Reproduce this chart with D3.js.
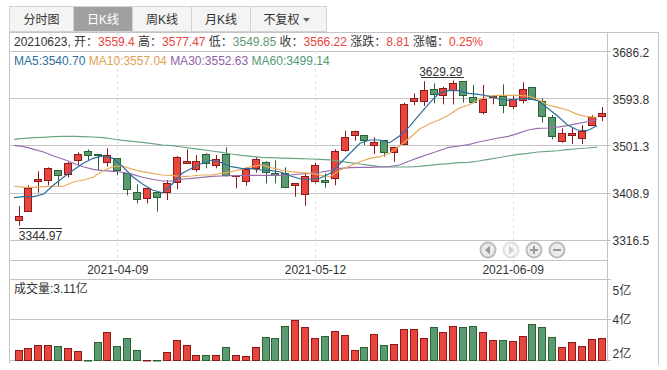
<!DOCTYPE html>
<html>
<head>
<meta charset="utf-8">
<style>
html, body { margin: 0; padding: 0; background: #fff; }
text { font-family: "Liberation Sans", "Noto Sans CJK SC", sans-serif; font-size: 12px; fill: #333; }
</style>
<script src="https://cdn.jsdelivr.net/npm/d3@7"></script>
</head>
<body>
<div id="chart"></div>
<script>
var dates = ['2021-03-25','2021-03-26','2021-03-29','2021-03-30','2021-03-31','2021-04-01','2021-04-02','2021-04-06','2021-04-07','2021-04-08',
    '2021-04-09','2021-04-12','2021-04-13','2021-04-14','2021-04-15','2021-04-16','2021-04-19','2021-04-20','2021-04-21','2021-04-22',
    '2021-04-23','2021-04-26','2021-04-27','2021-04-28','2021-04-29','2021-04-30','2021-05-06','2021-05-07','2021-05-10','2021-05-11',
    '2021-05-12','2021-05-13','2021-05-14','2021-05-17','2021-05-18','2021-05-19','2021-05-20','2021-05-21','2021-05-24','2021-05-25',
    '2021-05-26','2021-05-27','2021-05-28','2021-05-31','2021-06-01','2021-06-02','2021-06-03','2021-06-04','2021-06-07','2021-06-08',
    '2021-06-09','2021-06-10','2021-06-11','2021-06-15','2021-06-16','2021-06-17','2021-06-18','2021-06-21','2021-06-22','2021-06-23'];

var opens = [3357.6,3375.3,3431.3,3434,3453.6,3445.7,3473.1,3491.9,3484.9,3469.2,
    3477,3447.7,3411.7,3398.7,3410.5,3410.5,3430.1,3468.4,3457.5,3484.9,
    3463.3,3484.9,3441.8,3434,3458.1,3469.2,3447.7,3447.7,3423.4,3408.5,
    3432,3434.6,3437.9,3491.9,3521.3,3522.1,3502.5,3512.3,3488.8,3504.5,
    3588.7,3588.7,3612.2,3602.4,3610.8,3627.6,3596.5,3566.3,3597.7,3599.6,
    3578.9,3589.8,3616.1,3588.7,3557.3,3510.3,3521.3,3517.4,3541.7,3559.4];
var highs = [3383.7,3424.2,3451.6,3459.4,3454.2,3470.4,3488.8,3494.7,3484.9,3496.6,
    3477.6,3448.3,3426.1,3418.9,3411.1,3434.6,3481.6,3494.7,3483.5,3486.8,
    3483.5,3498.6,3444.3,3459.4,3479,3471.2,3473.1,3459.4,3428.7,3448.9,
    3468.4,3447.7,3494.7,3531.1,3531.1,3522.1,3518.2,3512.9,3499.8,3585.9,
    3604.3,3627.8,3623.9,3617.2,3629.29,3628.4,3620.6,3620.6,3601,3621.9,
    3599,3625.9,3616.1,3594.5,3561.8,3535.8,3537.7,3542.2,3561.8,3577.47];
var lows = [3344.97,3374.5,3409.7,3424.2,3422.8,3439.8,3463.3,3473.7,3454.2,3460.6,
    3443.8,3404.6,3388.9,3388.9,3372.5,3395.4,3416.4,3465.9,3450.8,3457.5,
    3457.5,3441,3418.3,3423.4,3448.9,3428.1,3428.1,3418.3,3401.9,3384.2,
    3428.1,3419.5,3424.2,3490,3511.5,3503.1,3485.5,3480.2,3470.4,3503.7,
    3581.4,3579.5,3584.7,3582.8,3582.8,3585.9,3584.7,3563.2,3582.8,3565.2,
    3573,3584.7,3591.2,3546.8,3514.3,3507.6,3505,3505,3540.9,3549.85];
var closes = [3364.7,3419.5,3436,3457.5,3443.8,3467.3,3484.9,3484.9,3482.1,3483.5,
    3452.8,3416.4,3398.7,3418.3,3399.9,3428.1,3479,3472.3,3472.3,3467.3,
    3475.1,3443,3443.8,3456.7,3475.1,3449.6,3444.3,3419.5,3428.1,3443,
    3463.3,3431.3,3490.8,3518.2,3529.9,3512.3,3508.4,3488.8,3498.6,3582.8,
    3594.5,3610.2,3602.4,3615.3,3625.1,3600.4,3586.7,3592.6,3599.6,3582,
    3593.2,3612.2,3591.8,3559.3,3520.1,3526,3526,3530.5,3557.41,3566.22];
var volumes = [2.75,2.79,2.88,2.88,2.85,2.79,2.69,2.43,2.98,3.30,
    2.85,3.11,2.75,2.41,2.43,2.66,3.05,2.88,2.59,2.56,
    2.56,2.82,2.59,2.53,2.82,3.14,3.11,3.50,3.69,3.46,
    3.11,3.17,3.34,3.21,2.75,2.82,3.24,2.88,2.92,3.40,
    3.40,3.11,3.46,3.30,3.50,3.46,3.50,3.30,3.05,3.05,
    3.01,3.17,3.56,3.46,3.14,2.82,2.98,2.85,3.08,3.11];

var ma5 = [3399.9,3401.9,3401.9,3407.2,3424.8,3439.9,3454.2,3467.3,3477,3481.6,
    3477,3460.6,3441,3426.8,3415,3409.7,3426.8,3447.7,3457.5,3467.3,
    3473.2,3468.5,3460.6,3457.5,3456.7,3454.2,3452.8,3450.3,3442.4,3436.5,
    3436,3438.5,3447.7,3467.3,3486.9,3506.5,3512.9,3512.9,3507.6,3520.7,
    3539,3561.9,3584.8,3604.3,3610.2,3609.4,3604.3,3602.4,3599,3593.2,
    3590.6,3593.2,3594.5,3589.9,3575,3559.9,3542.3,3532.5,3531.1,3540.7];
var ma10 = [3422.3,3420.3,3420.3,3421.5,3422.3,3422.3,3430.7,3434.6,3439.9,3452.8,
    3460.6,3462,3455.5,3450.8,3447.7,3444.4,3443.8,3441,3442.4,3444.4,
    3444.4,3447.7,3450.8,3455.5,3460.6,3464,3458.7,3454.2,3450.8,3448.9,
    3447.7,3444.4,3441,3454.2,3462,3470.4,3477,3480.2,3486.9,3501.2,
    3516.2,3533.9,3544.2,3552.1,3561.9,3575,3581.4,3591.2,3599,3600.4,
    3600.4,3600.4,3599,3592.6,3581.4,3576.9,3571.7,3563.2,3558.5,3557.04];
var ma30 = [3502.5,3499.8,3494.7,3489.4,3481.6,3475.1,3467.3,3460.6,3455.5,3452.8,
    3451.6,3449.7,3445.7,3439.9,3436,3432.6,3432.6,3436,3437.9,3439.9,
    3441.8,3442.4,3443,3443,3443.8,3443.8,3443.8,3443.8,3444.4,3446.3,
    3447.7,3449.7,3452.8,3457.5,3458.7,3459.4,3459.4,3460,3460.6,3464,
    3471.8,3479,3485.5,3491.9,3498.6,3501.2,3503.7,3509,3512.9,3516.8,
    3520.1,3526,3532.5,3535.8,3536.4,3538.3,3540.9,3544.8,3548.7,3552.63];
var ma60 = [3514.3,3516.2,3517.4,3518.2,3519.4,3520.1,3520.1,3519.4,3518.8,3517.4,
    3514.9,3512.3,3510.4,3508.4,3505.7,3503.1,3501.8,3499.2,3496.6,3493.9,
    3491.4,3488.8,3485.5,3482.9,3481,3479,3478.2,3477.6,3477,3476.3,
    3475.7,3475.1,3473.8,3471.2,3468.5,3465.9,3463.3,3460.6,3460,3460,
    3460,3461.4,3463.3,3465.3,3466.5,3468.5,3469.2,3471.8,3475.1,3478.2,
    3481.6,3484.9,3486.9,3489.4,3490.8,3491.9,3493.9,3495.8,3497.2,3499.14];

var priceTicks = [3686.2, 3593.8, 3501.3, 3408.9, 3316.5];
var volumeTicks = [4.99, 3.72, 2.4];
var volumeTickLabels = ['5亿', '4亿', '2亿'];
var dateTicks = ['2021-04-09', '2021-05-12', '2021-06-09'];
var tabs = ['分时图', '日K线', '周K线', '月K线', '不复权'];
var tabEdges = [9.5, 73.5, 132.5, 191.5, 250.5, 326.5];

var RED = '#e8453c', RED_DARK = '#8a1a1c', GREEN = '#5a9a70', GREEN_DARK = '#2a6233';
var GRID = '#c4c4c4';

var width = 667, height = 370;
var plotLeft = 14.06, plotRight = 607, frameLeft = 9.5, frameRight = 658.5, axisRight = 607.5;

var svg = d3.select('#chart').append('svg')
    .attr('width', width)
    .attr('height', height)
    .style('display', 'block');

var x = d3.scaleBand().domain(dates).range([plotLeft, plotRight]);
var yPrice = d3.scaleLinear().domain([3686.2, 3316.5]).range([51.5, 240.3]);
var yVol = d3.scaleLinear().domain([4.99, 2.4]).range([279.5, 360.5]);

function cx(d) { return x(d) + x.step() / 2; }
// snap to pixel so the candles stay sharp
function snap(v) { return Math.floor(v) + 0.5; }

// tabs
var tabG = svg.append('g');
tabs.forEach(function (t, i) {
    var active = i == 1;
    tabG.append('rect')
        .attr('x', tabEdges[i]).attr('y', 6.5)
        .attr('width', tabEdges[i + 1] - tabEdges[i]).attr('height', 25)
        .attr('fill', active ? '#a0a0a0' : '#f4f4f4')
        .attr('stroke', '#d2d2d2');
    tabG.append('text')
        .attr('x', (tabEdges[i] + tabEdges[i + 1]) / 2 - (i == 4 ? 7 : 0)).attr('y', 24)
        .attr('text-anchor', 'middle')
        .style('fill', active ? '#fff' : '#333')
        .text(t);
});
tabG.append('path')
    .attr('d', d3.line()([[303, 18], [310, 18], [306.5, 22]]) + 'Z')
    .attr('fill', '#666');

// frame + grid
var frame = svg.append('g').attr('stroke', GRID).attr('fill', 'none').attr('shape-rendering', 'crispEdges');
frame.append('line').attr('x1', frameLeft).attr('x2', frameRight).attr('y1', 32.5).attr('y2', 32.5);
frame.append('line').attr('x1', frameLeft).attr('x2', frameLeft).attr('y1', 32).attr('y2', 364);
frame.append('line').attr('x1', frameRight).attr('x2', frameRight).attr('y1', 32).attr('y2', 365);
frame.append('line').attr('x1', axisRight).attr('x2', axisRight).attr('y1', 32).attr('y2', 361);

frame.selectAll('.gp').data(priceTicks).enter().append('line')
    .attr('x1', frameLeft).attr('x2', 611)
    .attr('y1', d => snap(yPrice(d))).attr('y2', d => snap(yPrice(d)));
frame.selectAll('.gv').data(volumeTicks).enter().append('line')
    .attr('x1', frameLeft).attr('x2', 611)
    .attr('y1', d => snap(yVol(d))).attr('y2', d => snap(yVol(d)));
frame.append('line').attr('x1', frameLeft).attr('x2', axisRight).attr('y1', 260.5).attr('y2', 260.5);

svg.append('g').selectAll('line').data(dateTicks).enter().append('line')
    .attr('x1', d => snap(cx(d))).attr('x2', d => snap(cx(d)))
    .attr('y1', 33).attr('y2', 265)
    .attr('stroke', '#e2e2e2')
    .attr('stroke-dasharray', '3,3');

// price axis
var axPrice = d3.axisRight(yPrice)
    .tickValues(priceTicks)
    .tickSize(0)
    .tickPadding(0)
    .tickFormat(d3.format('.1f'));
svg.append('g')
    .attr('transform', 'translate(612.5,0.8)')
    .call(axPrice)
    .call(g => g.select('.domain').remove())
    .selectAll('text').style('font-size', '12px').style('font-family', null);

// volume axis
var axVol = d3.axisRight(yVol)
    .tickValues(volumeTicks)
    .tickSize(0)
    .tickPadding(0)
    .tickFormat((d, i) => volumeTickLabels[i]);
var volAxisG = svg.append('g')
    .attr('transform', 'translate(612.5,0)')
    .call(axVol)
    .call(g => g.select('.domain').remove());
volAxisG.selectAll('text').style('font-family', null)
    .attr('dy', (d, i) => [10.5, 0.5, -7.5][i] + 4);

// date labels
svg.append('g').selectAll('text').data(dateTicks).enter().append('text')
    .attr('x', d => cx(d)).attr('y', 274)
    .attr('text-anchor', 'middle')
    .text(d => d);

// candles
var candles = svg.append('g').selectAll('g').data(dates).enter().append('g');
candles.append('line')
    .attr('x1', d => snap(cx(d))).attr('x2', d => snap(cx(d)))
    .attr('y1', (d, i) => yPrice(highs[i]))
    .attr('y2', (d, i) => yPrice(lows[i]))
    .attr('stroke', (d, i) => closes[i] >= opens[i] ? RED_DARK : GREEN_DARK);
candles.append('rect')
    .attr('x', d => snap(cx(d)) - 4)
    .attr('width', 7)
    .attr('y', (d, i) => Math.round(yPrice(Math.max(opens[i], closes[i]))) + 0.5)
    .attr('height', (d, i) => Math.max(1, Math.round(yPrice(Math.min(opens[i], closes[i])) - yPrice(Math.max(opens[i], closes[i])))))
    .attr('fill', (d, i) => closes[i] >= opens[i] ? RED : GREEN)
    .attr('stroke', (d, i) => closes[i] >= opens[i] ? RED_DARK : GREEN_DARK);

// moving averages, points sit on the left edge of each band
var maLine = d3.line().x((d, i) => x(dates[i])).y(d => yPrice(d));
[[ma60, '#6ba582'], [ma30, '#9a6dae'], [ma10, '#e8aa5a'], [ma5, '#2f6e9e']].forEach(function (m) {
    svg.append('path').datum(m[0])
        .attr('d', maLine)
        .attr('fill', 'none')
        .attr('stroke', m[1])
        .attr('stroke-width', 1.2);
});

// high / low notes
var hiIdx = d3.maxIndex(highs), loIdx = d3.minIndex(lows);
svg.append('text').attr('x', cx(dates[hiIdx]) - 13).attr('y', 76).attr('text-anchor', 'middle').text(highs[hiIdx].toFixed(2));
svg.append('line').attr('x1', 421).attr('x2', 464).attr('y1', 77.5).attr('y2', 77.5).attr('stroke', '#333');
svg.append('text').attr('x', 40.5).attr('y', 240).attr('text-anchor', 'middle').text(lows[loIdx].toFixed(2));
svg.append('line').attr('x1', 19).attr('x2', 62).attr('y1', 228.5).attr('y2', 228.5).attr('stroke', '#333');

// volume bars
svg.append('g').selectAll('rect').data(dates).enter().append('rect')
    .attr('x', d => snap(cx(d)) - 4)
    .attr('width', 7)
    .attr('y', (d, i) => Math.round(yVol(volumes[i])) + 0.5)
    .attr('height', (d, i) => Math.max(0.5, 360 - Math.round(yVol(volumes[i]))))
    .attr('fill', (d, i) => closes[i] >= opens[i] ? RED : GREEN)
    .attr('stroke', (d, i) => closes[i] >= opens[i] ? RED_DARK : GREEN_DARK);

// info line
var infoParts = [['20210623, 开：', '#333'], ['3559.4', RED], [' 高：', '#333'], ['3577.47', RED], [' 低：', '#333'], ['3549.85', GREEN],
    [' 收：', '#333'], ['3566.22', RED], [' 涨跌：', '#333'], ['8.81', RED], [' 涨幅：', '#333'], ['0.25%', RED]];
var info = svg.append('text').attr('x', 14).attr('y', 46).attr('xml:space', 'preserve');
infoParts.forEach(function (p) { info.append('tspan').style('fill', p[1]).text(p[0]); });

var legendParts = [['MA5:3540.70 ', '#2f6e9e'], ['MA10:3557.04 ', '#e0a050'], ['MA30:3552.63 ', '#9060a8'], ['MA60:3499.14', '#4f9a70']];
var legend = svg.append('text').attr('x', 14).attr('y', 65).attr('xml:space', 'preserve');
legendParts.forEach(function (p) { legend.append('tspan').style('fill', p[1]).text(p[0]); });

svg.append('text').attr('x', 14).attr('y', 293).text('成交量:3.11亿');

// zoom buttons
var buttons = [[488, 'left', 1], [511, 'right', 0.45], [534, 'plus', 1], [557, 'minus', 1]];
buttons.forEach(function (b) {
    var g = svg.append('g').attr('transform', 'translate(' + b[0] + ',250)').attr('opacity', b[2]);
    g.append('circle').attr('r', 7.5).attr('fill', '#ececec').attr('stroke', '#bdbdbd').attr('stroke-width', 2);
    if (b[1] == 'left') g.append('path').attr('d', 'M-3,0L2,-4.5V4.5Z').attr('fill', '#999');
    if (b[1] == 'right') g.append('path').attr('d', 'M3,0L-2,-4.5V4.5Z').attr('fill', '#999');
    if (b[1] == 'plus') g.append('path').attr('d', 'M-4,0H4M0,-4V4').attr('stroke', '#999').attr('stroke-width', 2);
    if (b[1] == 'minus') g.append('path').attr('d', 'M-4,0H4').attr('stroke', '#999').attr('stroke-width', 2);
});
</script>
</body>
</html>
